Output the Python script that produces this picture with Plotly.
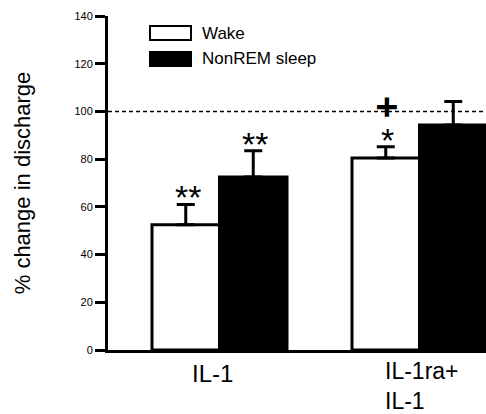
import plotly.graph_objects as go

# Data: percent change in discharge relative to baseline
groups = ["IL-1", "IL-1ra+<br>IL-1"]
group_pos = [0, 1]
wake_mean = [52.5, 80.5]
wake_err = [8.5, 4.7]
nrem_mean = [72.5, 94.3]
nrem_err = [11.0, 9.9]
y_ticks = [0, 20, 40, 60, 80, 100, 120, 140]

# significance markers: (group index, series, text)
stars = [(0, "wake", "**"), (0, "nrem", "**"), (1, "wake", "*")]
cross = (1, "wake", "+")

FONT = "Liberation Sans, Arial, Helvetica, sans-serif"
BAR_W = 0.3375
HALF = BAR_W / 2


def bar_top(gi, series):
    if series == "wake":
        return group_pos[gi] - HALF, wake_mean[gi] + wake_err[gi]
    return group_pos[gi] + HALF, nrem_mean[gi] + nrem_err[gi]


fig = go.Figure()
fig.add_trace(go.Bar(
    x=[p - HALF for p in group_pos], y=wake_mean, width=BAR_W, name="Wake",
    marker=dict(color="white", line=dict(color="black", width=3)),
    error_y=dict(type="data", array=wake_err, arrayminus=[0, 0], symmetric=False,
                 color="black", thickness=3, width=9),
))
fig.add_trace(go.Bar(
    x=[p + HALF for p in group_pos], y=nrem_mean, width=BAR_W, name="NonREM sleep",
    marker=dict(color="black", line=dict(color="black", width=3)),
    error_y=dict(type="data", array=nrem_err, arrayminus=[0, 0], symmetric=False,
                 color="black", thickness=3, width=9),
))

# reference line at 100 %
fig.add_shape(type="line", xref="paper", yref="y", x0=0, x1=1, y0=100, y1=100,
              line=dict(color="black", width=1.5, dash="4px,3px"))

annotations = []
# asterisks above error bars (box trimmed to the glyph area)
for gi, series, txt in stars:
    xc, top = bar_top(gi, series)
    annotations.append(dict(x=xc + 0.01, y=top, xref="x", yref="y", text=txt,
                            showarrow=False, yanchor="top", yshift=28,
                            height=22, valign="top",
                            font=dict(family=FONT, size=34, color="black")))
# bold cross above the asterisk; turned a quarter so its box is only as tall
# as the glyph is wide (the symbol itself is symmetric)
xc, top = bar_top(cross[0], cross[1])
annotations.append(dict(x=xc + 0.01, y=top, xref="x", yref="y", text="<b>+</b>",
                        showarrow=False, yanchor="middle", xanchor="center", yshift=40,
                        textangle=90,
                        font=dict(family=FONT, size=38, color="black")))

# category labels
annotations.append(dict(x=group_pos[0] - 0.0375, y=0, xref="x", yref="y", text=groups[0],
                        showarrow=False, yanchor="top", xanchor="center", yshift=-8,
                        font=dict(family=FONT, size=24, color="black")))
annotations.append(dict(x=group_pos[1] - 0.1825, y=0, xref="x", yref="y", text=groups[1],
                        showarrow=False, yanchor="top", xanchor="left", align="left", yshift=-6,
                        font=dict(family=FONT, size=23, color="black")))

# legend
legend_items = [("Wake", "white", 33), ("NonREM sleep", "black", 59)]
for label, fill, yc in legend_items:
    fig.add_shape(type="rect", xref="paper", yref="paper",
                  x0=(150 - 108) / 378, x1=(191 - 108) / 378,
                  y0=(414 - 64 - (yc + 7)) / 334, y1=(414 - 64 - (yc - 7)) / 334,
                  fillcolor=fill, line=dict(color="black", width=2))
    annotations.append(dict(x=(200 - 108) / 378, y=(414 - 64 - yc) / 334, xref="paper",
                            yref="paper", text=label, showarrow=False, xanchor="left",
                            yanchor="middle",
                            font=dict(family=FONT, size=17, color="black")))

fig.update_layout(
    width=486, height=414,
    margin=dict(l=108, r=0, t=16, b=64),
    paper_bgcolor="white", plot_bgcolor="white",
    showlegend=False, barmode="overlay",
    font=dict(family=FONT, color="black"),
    annotations=annotations,
    xaxis=dict(range=[-0.5575, 1.3325], showline=True, linecolor="black", linewidth=3,
               showticklabels=False, ticks="", showgrid=False, zeroline=False),
    yaxis=dict(range=[0, 140], tickvals=y_ticks, showline=True, linecolor="black",
               linewidth=3, ticks="outside", ticklen=10, tickwidth=3, tickcolor="black",
               tickfont=dict(family=FONT, size=11, color="black"),
               showgrid=False, zeroline=False,
               title=dict(text="% change in discharge", standoff=38,
                          font=dict(family=FONT, size=22, color="black"))),
)

fig.write_html("out.html")
